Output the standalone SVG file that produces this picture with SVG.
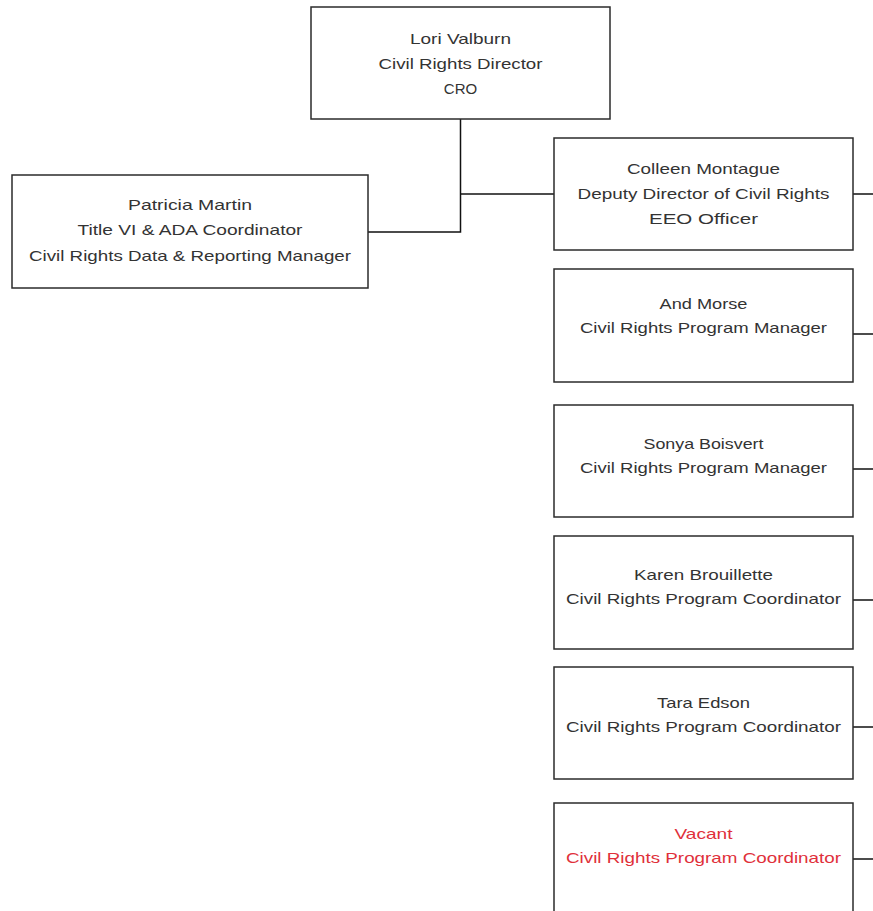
<svg xmlns="http://www.w3.org/2000/svg" width="873" height="911" viewBox="0 0 873 911">
<style>
.box{fill:#ffffff;stroke:#2b2b2b;stroke-width:1.5}
.t{font-family:"Liberation Sans",Arial,sans-serif;font-size:15px;fill:#333333;text-anchor:middle}
.red{fill:#e0303a}
.c{fill:none;stroke:#111111;stroke-width:1.5}
</style>
<rect width="873" height="911" fill="#ffffff"/>
<g id="connectors">
<path class="c" d="M460.5 119 V232 H368"/>
<path class="c" d="M460.5 194 H554"/>
<path class="c" d="M853 194 H873"/>
<path class="c" d="M853 334 H873"/>
<path class="c" d="M853 469 H873"/>
<path class="c" d="M853 600 H873"/>
<path class="c" d="M853 727 H873"/>
<path class="c" d="M853 859 H873"/>
</g>
<g id="lori">
<rect class="box" x="311" y="7" width="299" height="112"/>
<text class="t" x="460.5" y="44" textLength="101" lengthAdjust="spacingAndGlyphs">Lori Valburn</text>
<text class="t" x="460.5" y="69" textLength="164" lengthAdjust="spacingAndGlyphs">Civil Rights Director</text>
<text class="t" x="460.5" y="94">CRO</text>
</g>
<g id="patricia">
<rect class="box" x="12" y="175" width="356" height="113"/>
<text class="t" x="190" y="210" textLength="124" lengthAdjust="spacingAndGlyphs">Patricia Martin</text>
<text class="t" x="190" y="235" textLength="225" lengthAdjust="spacingAndGlyphs">Title VI &amp; ADA Coordinator</text>
<text class="t" x="190" y="261" textLength="322" lengthAdjust="spacingAndGlyphs">Civil Rights Data &amp; Reporting Manager</text>
</g>
<g id="colleen">
<rect class="box" x="554" y="138" width="299" height="112"/>
<text class="t" x="703.5" y="174" textLength="153" lengthAdjust="spacingAndGlyphs">Colleen Montague</text>
<text class="t" x="703.5" y="199" textLength="252" lengthAdjust="spacingAndGlyphs">Deputy Director of Civil Rights</text>
<text class="t" x="703.5" y="224" textLength="109" lengthAdjust="spacingAndGlyphs">EEO Officer</text>
</g>
<g id="and">
<rect class="box" x="554" y="269" width="299" height="113"/>
<text class="t" x="703.5" y="309" textLength="88" lengthAdjust="spacingAndGlyphs">And Morse</text>
<text class="t" x="703.5" y="333" textLength="247" lengthAdjust="spacingAndGlyphs">Civil Rights Program Manager</text>
</g>
<g id="sonya">
<rect class="box" x="554" y="405" width="299" height="112"/>
<text class="t" x="703.5" y="449" textLength="120" lengthAdjust="spacingAndGlyphs">Sonya Boisvert</text>
<text class="t" x="703.5" y="473" textLength="247" lengthAdjust="spacingAndGlyphs">Civil Rights Program Manager</text>
</g>
<g id="karen">
<rect class="box" x="554" y="536" width="299" height="113"/>
<text class="t" x="703.5" y="580" textLength="139" lengthAdjust="spacingAndGlyphs">Karen Brouillette</text>
<text class="t" x="703.5" y="604" textLength="275" lengthAdjust="spacingAndGlyphs">Civil Rights Program Coordinator</text>
</g>
<g id="tara">
<rect class="box" x="554" y="667" width="299" height="112"/>
<text class="t" x="703.5" y="708" textLength="93" lengthAdjust="spacingAndGlyphs">Tara Edson</text>
<text class="t" x="703.5" y="732" textLength="275" lengthAdjust="spacingAndGlyphs">Civil Rights Program Coordinator</text>
</g>
<g id="vacant">
<rect class="box" x="554" y="803" width="299" height="120"/>
<text class="t red" x="703.5" y="839" textLength="58" lengthAdjust="spacingAndGlyphs">Vacant</text>
<text class="t red" x="703.5" y="863" textLength="275" lengthAdjust="spacingAndGlyphs">Civil Rights Program Coordinator</text>
</g>
</svg>
